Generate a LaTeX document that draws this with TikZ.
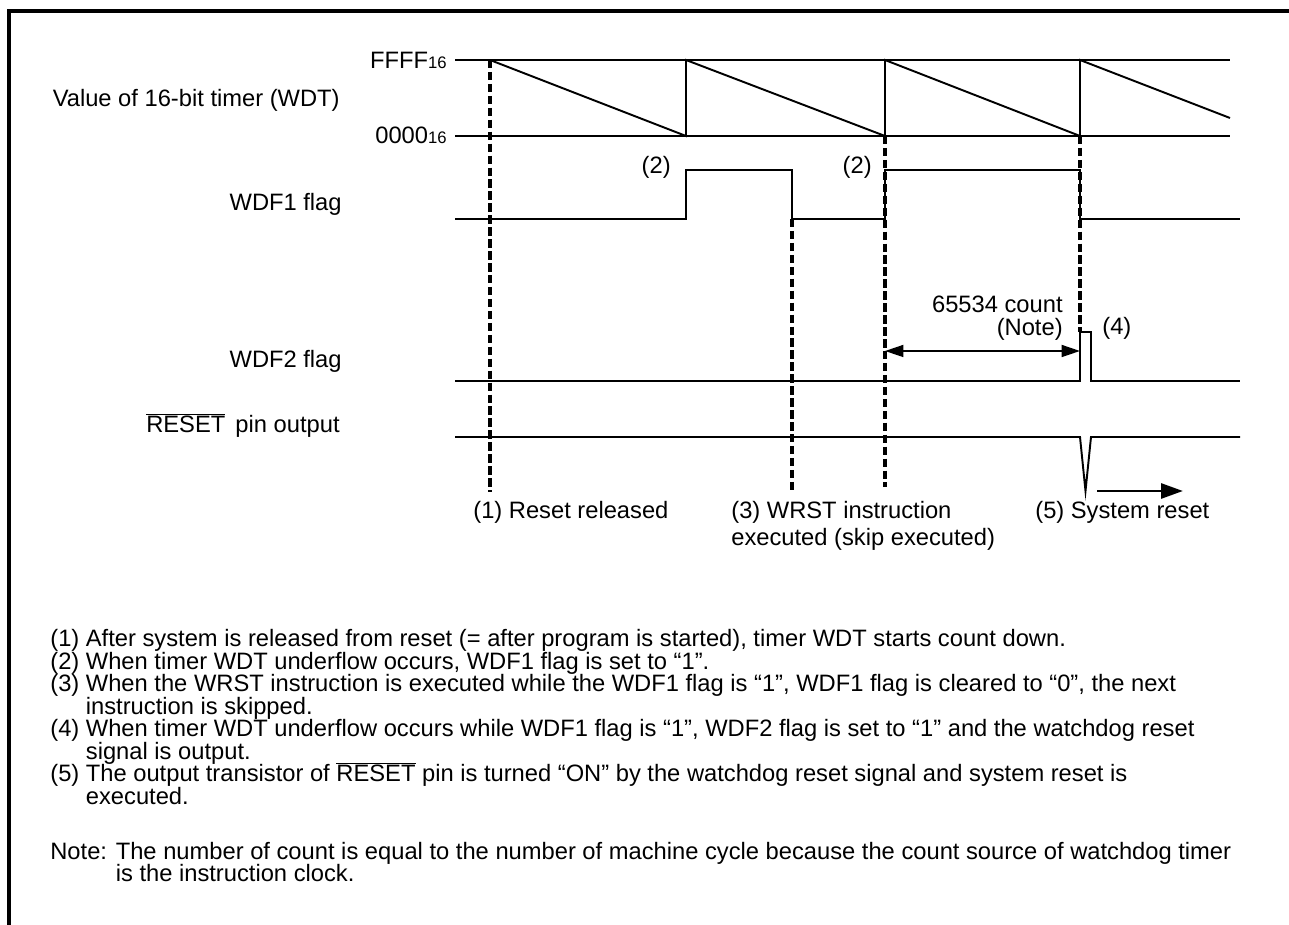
\documentclass[tikz,border=0pt]{standalone}
\usepackage{fontspec}
\setmainfont{Liberation Sans}
\usetikzlibrary{arrows.meta, positioning}

\newcommand{\hexsub}[1]{{\fontsize{9.5}{10}\selectfont #1}}
\newcommand{\ovl}[1]{$\overline{\hbox{#1}}$}

\begin{document}
\begin{tikzpicture}[x=0.02cm, y=-0.02cm,
  font=\fontsize{13.5}{16}\selectfont,
  sig/.style={line width=1.1pt},
  guide/.style={line width=1.8pt, dash pattern=on 4.8pt off 2pt},
  lbl/.style={inner sep=0pt, anchor=base east},
  txt/.style={inner sep=0pt, anchor=base west}]
  \useasboundingbox (0,0) rectangle (1289,925);
  % Frame, open at the right and at the bottom
  \draw[line width=2pt] (1289,11) -- (9,11) -- (9,925);

  % Row labels
  \node[lbl] (timer) at (340,107) {Value of 16-bit timer (WDT)};
  \node[lbl] (ffff) at (447,69) {FFFF\hexsub{16}};
  \node[lbl] (zero) at (447,144) {0000\hexsub{16}};
  \node[lbl] (wdfone) at (342,211) {WDF1 flag};
  \node[lbl] (wdftwo) at (342,368) {WDF2 flag};
  \node[lbl] (rstpin) at (340,433) {\ovl{RESET}\hspace{2pt} pin output};

  % Timer value: two levels and the sawtooth
  \draw[sig] (455,60) -- (1230,60);
  \draw[sig] (455,136) -- (1230,136);
  \draw[sig] (490,60) -- (686,136) -- (686,60) -- (885,136) -- (885,60)
    -- (1080,136) -- (1080,60) -- (1230,118);

  % WDF1 flag
  \draw[sig] (455,219) -- (686,219) -- (686,170) -- (792,170) -- (792,219)
    -- (885,219) -- (885,170) -- (1080,170) -- (1080,219) -- (1240,219);
  \node[lbl] (setone) at (671,174) {(2)};
  \node[lbl] (settwo) at (872,174) {(2)};

  % WDF2 flag with its short pulse
  \draw[sig] (455,381) -- (1080,381) -- (1080,332) -- (1091,332) -- (1091,381)
    -- (1240,381);
  \node[txt] (pulse) at (1102,335) {(4)};

  % RESET pin output
  \draw[sig] (455,437) -- (1080,437) -- (1085.5,491) -- (1091,437) -- (1240,437);

  % Event guides
  \draw[guide] (490,60) -- (490,492);
  \draw[guide] (792,219) -- (792,492);
  \draw[guide] (885,136) -- (885,487);
  \draw[guide] (1080,136) -- (1080,332);

  % 65534 count span
  \coordinate (wrst) at (885,351);
  \coordinate (under) at (1080,351);
  \draw[{Triangle[length=10.5pt,width=6.8pt]}-{Triangle[length=10.5pt,width=6.8pt]}, line width=1.1pt]
    (wrst) -- (under);
  \node[lbl] (count) at (1063,313) {65534 count};
  \node[lbl] (note) at (1063,336) {(Note)};

  % System reset arrow
  \coordinate (sysa) at (1097,491);
  \coordinate (sysb) at (1183,491);
  \draw[-{Triangle[length=12.5pt,width=8.5pt]}, line width=1.7pt] (sysa) -- (sysb);

  % Event names
  \node[txt] (evone) at (473,519) {(1) Reset released};
  \node[txt] (evthree) at (731,519) {(3) WRST instruction};
  \node[txt] (evthreeb) at (731,546) {executed (skip executed)};
  \node[txt] (evfive) at (1035,519) {(5) System reset};

  % Explanations
  \node[txt] (exone) at (50,647) {(1) After system is released from reset (= after program is started), timer WDT starts count down.};
  \node[txt] (extwo) at (50,669.5) {(2) When timer WDT underflow occurs, WDF1 flag is set to “1”.};
  \node[txt] (exthree) at (50,692) {(3) When the WRST instruction is executed while the WDF1 flag is “1”, WDF1 flag is cleared to “0”, the next};
  \node[txt] (exthreeb) at (50,714.5) {\phantom{(3) }instruction is skipped.};
  \node[txt] (exfour) at (50,737) {(4) When timer WDT underflow occurs while WDF1 flag is “1”, WDF2 flag is set to “1” and the watchdog reset};
  \node[txt] (exfourb) at (50,759.5) {\phantom{(4) }signal is output.};
  \node[txt] (exfive) at (50,782) {(5) The output transistor of \ovl{RESET} pin is turned “ON” by the watchdog reset signal and system reset is};
  \node[txt] (exfiveb) at (50,804.5) {\phantom{(5) }executed.};
  \node[txt] (nota) at (50,859) {Note: The number of count is equal to the number of machine cycle because the count source of watchdog timer};
  \node[txt] (notb) at (50,881.5) {\phantom{Note: }is the instruction clock.};
\end{tikzpicture}
\end{document}
